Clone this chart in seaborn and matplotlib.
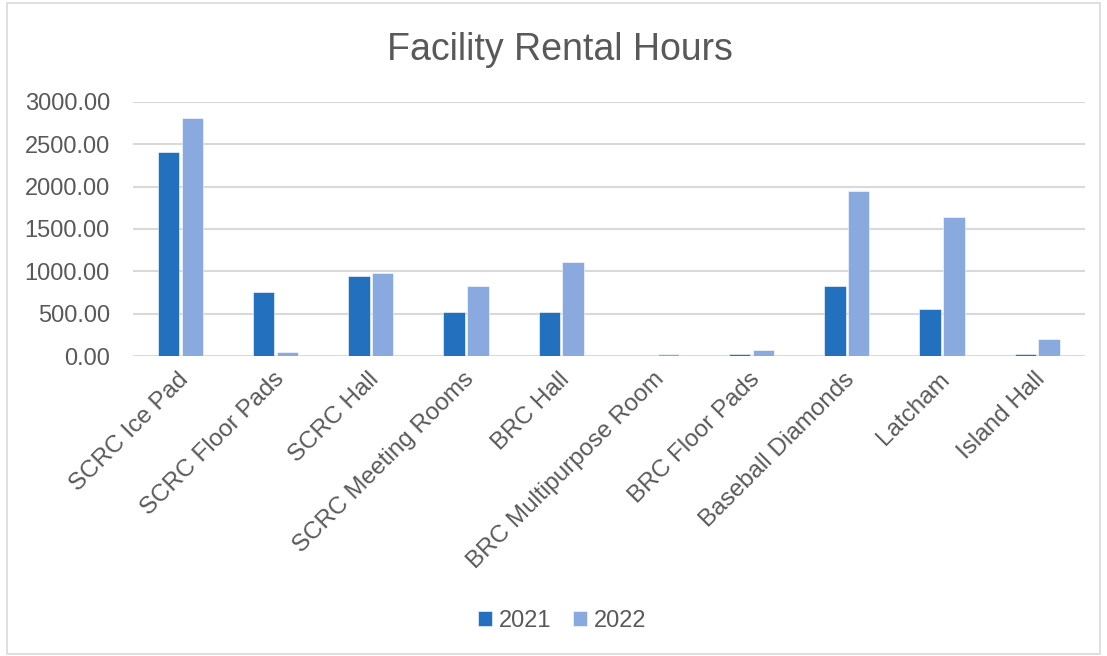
import matplotlib
matplotlib.use("Agg")
import matplotlib.pyplot as plt
import matplotlib.transforms as mtransforms
import seaborn as sns
import pandas as pd
from matplotlib.patches import Rectangle

categories = ["SCRC Ice Pad", "SCRC Floor Pads", "SCRC Hall", "SCRC Meeting Rooms",
              "BRC Hall", "BRC Multipurpose Room", "BRC Floor Pads",
              "Baseball Diamonds", "Latcham", "Island Hall"]
hours_2021 = [2407, 757, 946, 518, 522, 0, 27, 828, 553, 25]
hours_2022 = [2811, 51, 985, 828, 1111, 30, 74, 1951, 1637, 207]
series = ["2021", "2022"]
yticks = [0, 500, 1000, 1500, 2000, 2500, 3000]

df = pd.DataFrame({
    "Facility": categories * 2,
    "Year": [series[0]] * len(categories) + [series[1]] * len(categories),
    "Hours": hours_2021 + hours_2022,
})

sns.set_theme(style="white")
plt.rcParams["font.family"] = ["Liberation Sans", "DejaVu Sans"]
text_color = "#595959"

fig = plt.figure(figsize=(11.07, 6.56), dpi=100)
ax = fig.add_axes([0.120, 0.457, 0.860, 0.388])

sns.barplot(data=df, x="Facility", y="Hours", hue="Year", order=categories,
            hue_order=series, palette=["#2371BE", "#8AAADF"], saturation=1,
            width=0.5, gap=0.1, edgecolor="white", linewidth=0.4,
            ax=ax, zorder=3, legend=True)

ax.set_ylim(0, 3000)
ax.set_xlim(-0.5, len(categories) - 0.5)
ax.set_yticks(yticks)
ax.set_yticklabels([f"{v:.2f}" for v in yticks], fontsize=17, color=text_color)
ax.set_xticks(range(len(categories)))
ax.set_xticklabels(categories, rotation=45, ha="right", rotation_mode="anchor",
                   fontsize=17.5, color=text_color)
ax.tick_params(axis="x", length=0, pad=8)
ax.tick_params(axis="y", length=0, pad=16.5)
shift = mtransforms.ScaledTranslation(-0.03, -0.01, fig.dpi_scale_trans)
for lab in ax.get_xticklabels():
    lab.set_transform(lab.get_transform() + shift)
ax.set_xlabel("")
ax.set_ylabel("")
for s in ax.spines.values():
    s.set_visible(False)
ax.yaxis.grid(True, color="#D9D9D9", linewidth=1.5, zorder=0)
ax.set_axisbelow(True)

fig.text(0.506, 0.924, "Facility Rental Hours", fontsize=27, color=text_color,
         ha="center", va="center")

handles, labels = ax.get_legend_handles_labels()
ax.legend_.remove()
fig.legend(handles, labels, loc="center", bbox_to_anchor=(0.508, 0.053), ncol=2,
           frameon=False, fontsize=17, labelcolor=text_color, handlelength=0.6,
           handleheight=0.6, handletextpad=0.3, columnspacing=0.9)

fig.patches.append(Rectangle((0.006, 0.003), 0.988, 0.992, transform=fig.transFigure,
                             fill=False, edgecolor="#D9D9D9", linewidth=1.2))

fig.savefig("out.png", dpi=100, facecolor="white")
